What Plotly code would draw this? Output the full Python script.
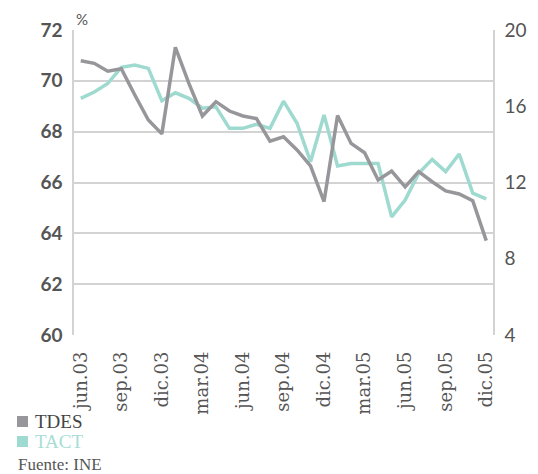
import plotly.graph_objects as go

months = ["jun.03","jul.03","ago.03","sep.03","oct.03","nov.03","dic.03",
          "ene.04","feb.04","mar.04","abr.04","may.04","jun.04","jul.04","ago.04","sep.04","oct.04","nov.04","dic.04",
          "ene.05","feb.05","mar.05","abr.05","may.05","jun.05","jul.05","ago.05","sep.05","oct.05","nov.05","dic.05"]
tick_labels = ["jun.03","sep.03","dic.03","mar.04","jun.04","sep.04","dic.04","mar.05","jun.05","sep.05","dic.05"]

# TACT on the left axis (%)
tact = [69.31, 69.56, 69.9, 70.53, 70.62, 70.49, 69.22, 69.53, 69.31, 68.92, 68.98, 68.13, 68.13, 68.29, 68.13,
        69.2, 68.33, 66.82, 68.66, 66.65, 66.75, 66.75, 66.75, 64.65, 65.31, 66.36, 66.91, 66.43, 67.12, 65.58, 65.36]
# TDES on the right axis
tdes = [18.39, 18.25, 17.84, 17.97, 16.59, 15.28, 14.55, 19.09, 17.2, 15.49, 16.24, 15.75, 15.49, 15.35, 14.17,
        14.4, 13.71, 12.87, 11.0, 15.51, 14.05, 13.56, 12.13, 12.6, 11.77, 12.57, 12.04, 11.56, 11.4, 11.04, 8.95]

OFF = 8  # page body margin
W, H = 538 - OFF, 474 - OFF
L, R, T, B = 74 - OFF, 493 - OFF, 30 - OFF, 335 - OFF
GRAY = "#97979b"
TEAL = "#9fdad0"
TXT = "#555555"

def px(x):
    return (x - OFF - L) / (R - L)

def py(y):
    return (B - (y - OFF)) / (B - T)

fig = go.Figure()
fig.add_trace(go.Scatter(x=months, y=tact, mode="lines", name="TACT",
                         line=dict(color=TEAL, width=3.5), yaxis="y", showlegend=False))
fig.add_trace(go.Scatter(x=months, y=tdes, mode="lines", name="TDES",
                         line=dict(color=GRAY, width=3.5), yaxis="y2", showlegend=False))

fig.update_layout(
    width=W, height=H,
    margin=dict(l=L, r=W - R, t=T, b=H - B, autoexpand=False),
    paper_bgcolor="white", plot_bgcolor="white",
    xaxis=dict(type="category", categoryorder="array", categoryarray=months,
               range=[-0.5, len(months) - 0.5],
               tickmode="array", tickvals=tick_labels, ticktext=tick_labels,
               tickangle=-90, showgrid=False, showline=False, ticks="",
               ticklabelstandoff=12,
               tickfont=dict(family="DejaVu Serif", size=18, color=TXT)),
    yaxis=dict(range=[60, 72], tickvals=[60, 62, 64, 66, 68, 70, 72],
               showgrid=True, gridcolor="#d3d3d3", gridwidth=1.5,
               showline=True, linecolor="#d3d3d3", linewidth=1.5,
               zeroline=False, ticks="", ticklabelstandoff=6,
               tickfont=dict(family="Lato", size=19, color=TXT, weight="bold")),
    yaxis2=dict(range=[4, 20], tickvals=[4, 8, 12, 16, 20], overlaying="y", side="right",
                showgrid=False, showline=True, linecolor="#d3d3d3", linewidth=1.5,
                zeroline=False, ticks="", ticklabelstandoff=6,
                tickfont=dict(family="Lato", size=19, color=TXT)),
    showlegend=False,
)

# % unit label
fig.add_annotation(x=px(74), y=1 + (T - 0) / (B - T), xref="paper", yref="paper", text="%", showarrow=False,
                   xanchor="left", yanchor="top", font=dict(family="Lato", size=15, color=TXT))

# legend
for label, color, tcolor, ytop in [("TDES", GRAY, "#444444", 416), ("TACT", TEAL, "#a8ddd5", 436)]:
    fig.add_shape(type="rect", xref="paper", yref="paper",
                  x0=px(17), x1=px(28), y0=py(ytop), y1=py(ytop + 11),
                  fillcolor=color, line=dict(width=0))
    fig.add_annotation(x=px(33), y=py(ytop + 5.5), xref="paper", yref="paper", text=label, showarrow=False,
                       xanchor="left", yanchor="middle",
                       font=dict(family="Liberation Serif", size=19, color=tcolor))

fig.add_annotation(x=px(16), y=py(464), xref="paper", yref="paper", text="Fuente: INE", showarrow=False,
                   xanchor="left", yanchor="middle",
                   font=dict(family="Liberation Serif", size=17, color=TXT))

fig.write_html("out.html")
